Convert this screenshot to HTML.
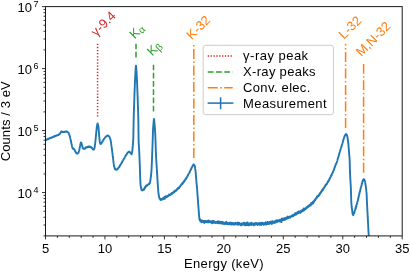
<!DOCTYPE html>
<html><head><meta charset="utf-8"><title>chart</title>
<style>html,body{margin:0;padding:0;background:#fff;}body{width:410px;height:272px;overflow:hidden;position:relative;font-family:"Liberation Sans",sans-serif;}</style>
</head><body>
<svg width="410" height="272" viewBox="0 0 410 272" style="position:absolute;left:0;top:0;will-change:transform">
<rect width="410" height="272" fill="#fff"/>
<line x1="97.6" y1="116.55" x2="97.6" y2="43.7" stroke="#d62728" stroke-width="1.5" stroke-dasharray="1.3,1.809"/>
<line x1="136" y1="57.5" x2="136" y2="43.75" stroke="#2ca02c" stroke-width="1.5" stroke-dasharray="5.85,2.4"/>
<line x1="153.5" y1="111.5" x2="153.5" y2="64.75" stroke="#2ca02c" stroke-width="1.5" stroke-dasharray="5.85,2.4"/>
<line x1="193.8" y1="158.0" x2="193.8" y2="45" stroke="#ff7f0e" stroke-width="1.5" stroke-dasharray="9.96,2.49,1.56,2.49"/>
<line x1="345.6" y1="127.9" x2="345.6" y2="43.75" stroke="#ff7f0e" stroke-width="1.5" stroke-dasharray="9.96,2.49,1.56,2.49"/>
<line x1="363.6" y1="172.8" x2="363.6" y2="64.1" stroke="#ff7f0e" stroke-width="1.5" stroke-dasharray="9.96,2.49,1.56,2.49"/>
<clipPath id="c"><rect x="45.5" y="6.6" width="356.7" height="229.3"/></clipPath>
<path d="M45.50,140.15 45.62,139.55 45.74,139.86 45.86,139.70 45.98,139.67 46.10,139.66 46.22,139.40 46.34,139.57 46.46,139.45 46.58,139.91 46.70,139.49 46.82,139.38 46.94,139.34 47.06,139.25 47.18,139.16 47.30,139.20 47.42,139.26 47.54,139.13 47.66,139.22 47.78,139.04 47.90,139.02 48.02,139.16 48.14,138.99 48.26,138.82 48.38,138.82 48.50,138.86 48.62,138.98 48.74,138.67 48.86,138.62 48.98,138.73 49.10,138.46 49.22,138.48 49.34,138.57 49.46,138.49 49.58,138.39 49.70,138.41 49.82,137.95 49.94,138.35 50.06,138.07 50.18,137.94 50.30,138.12 50.42,138.13 50.54,137.94 50.66,137.82 50.78,137.90 50.90,137.85 51.02,137.97 51.14,137.84 51.26,137.73 51.38,137.79 51.50,137.59 51.62,137.45 51.74,137.58 51.86,137.53 51.98,137.39 52.10,137.28 52.22,137.34 52.34,136.98 52.46,137.30 52.58,137.23 52.70,136.93 52.82,137.08 52.94,136.91 53.06,137.06 53.18,136.69 53.30,136.76 53.42,136.90 53.54,136.90 53.66,136.47 53.78,136.61 53.90,136.65 54.02,136.49 54.14,136.69 54.26,136.32 54.38,136.45 54.50,136.23 54.62,136.46 54.74,136.25 54.86,136.16 54.98,135.95 55.10,136.28 55.22,136.13 55.34,136.08 55.46,136.07 55.58,135.93 55.70,135.76 55.82,135.69 55.94,135.64 56.06,135.84 56.18,135.47 56.30,135.52 56.42,135.50 56.54,135.51 56.66,135.50 56.78,135.25 56.90,135.15 57.02,135.30 57.14,135.40 57.26,135.31 57.38,135.21 57.50,135.11 57.62,135.14 57.74,135.04 57.86,135.11 57.98,134.89 58.10,134.95 58.22,134.87 58.34,134.89 58.46,134.81 58.58,135.01 58.70,134.83 58.82,134.77 58.94,134.31 59.06,134.42 59.18,134.31 59.30,134.34 59.42,133.92 59.54,134.18 59.66,134.04 59.78,133.65 59.90,133.55 60.02,133.43 60.14,133.38 60.26,133.31 60.38,133.29 60.50,132.86 60.62,132.75 60.74,132.46 60.86,132.41 60.98,132.09 61.10,131.96 61.22,131.55 61.34,131.54 61.46,131.42 61.58,131.66 61.70,131.60 61.82,131.55 61.94,131.60 62.06,131.76 62.18,131.71 62.30,131.75 62.42,131.96 62.54,132.22 62.66,131.97 62.78,131.94 62.90,131.88 63.02,131.86 63.14,132.06 63.26,132.09 63.38,132.00 63.50,132.03 63.62,132.01 63.74,132.01 63.86,131.84 63.98,131.95 64.10,132.01 64.22,131.90 64.34,131.91 64.46,131.84 64.58,131.85 64.70,131.94 64.82,131.76 64.94,131.74 65.06,131.79 65.18,131.73 65.30,131.79 65.42,131.36 65.54,131.64 65.66,131.47 65.78,131.52 65.90,131.59 66.02,131.62 66.14,131.62 66.26,131.55 66.38,131.72 66.50,131.55 66.62,131.59 66.74,131.72 66.86,131.62 66.98,131.94 67.10,131.86 67.22,132.02 67.34,131.85 67.46,131.88 67.58,132.01 67.70,132.15 67.82,132.11 67.94,132.32 68.06,132.39 68.18,132.68 68.30,132.57 68.42,132.89 68.54,132.87 68.66,133.04 68.78,133.29 68.90,133.50 69.02,133.93 69.14,134.32 69.26,134.54 69.38,134.91 69.50,135.37 69.62,135.61 69.74,136.02 69.86,136.42 69.98,136.73 70.10,137.49 70.22,137.67 70.34,138.44 70.46,138.87 70.58,139.52 70.70,139.91 70.82,140.36 70.94,141.05 71.06,141.49 71.18,142.11 71.30,142.75 71.42,143.37 71.54,144.00 71.66,144.55 71.78,145.23 71.90,145.51 72.02,146.25 72.14,146.57 72.26,147.34 72.38,147.79 72.50,147.72 72.62,148.33 72.74,148.51 72.86,148.50 72.98,148.82 73.10,148.74 73.22,148.61 73.34,148.88 73.46,148.93 73.58,149.01 73.70,148.85 73.82,149.17 73.94,149.24 74.06,149.03 74.18,149.19 74.30,149.39 74.42,149.50 74.54,150.05 74.66,150.08 74.78,150.16 74.90,150.47 75.02,150.84 75.14,151.43 75.26,151.28 75.38,151.53 75.50,151.80 75.62,151.92 75.74,152.47 75.86,152.22 75.98,152.59 76.10,152.66 76.22,152.91 76.34,152.81 76.46,153.44 76.58,153.29 76.70,153.42 76.82,153.34 76.94,153.39 77.06,153.58 77.18,153.63 77.30,153.57 77.42,153.61 77.54,153.49 77.66,153.33 77.78,153.40 77.90,153.31 78.02,153.13 78.14,153.18 78.26,153.13 78.38,152.76 78.50,152.40 78.62,152.24 78.74,152.07 78.86,151.36 78.98,150.99 79.10,150.58 79.22,150.33 79.34,149.34 79.46,149.06 79.58,148.54 79.70,147.61 79.82,147.30 79.94,146.59 80.06,145.91 80.18,145.44 80.30,144.61 80.42,144.15 80.54,143.90 80.66,143.07 80.78,143.04 80.90,142.56 81.02,142.63 81.14,142.61 81.26,142.56 81.38,143.12 81.50,143.62 81.62,143.88 81.74,144.30 81.86,144.93 81.98,145.16 82.10,145.43 82.22,146.00 82.34,146.66 82.46,146.91 82.58,147.50 82.70,147.93 82.82,147.98 82.94,147.99 83.06,148.11 83.18,148.42 83.30,148.67 83.42,148.68 83.54,148.80 83.66,148.71 83.78,148.84 83.90,148.73 84.02,148.73 84.14,148.55 84.26,148.47 84.38,148.57 84.50,148.42 84.62,148.37 84.74,148.52 84.86,148.33 84.98,148.68 85.10,148.32 85.22,148.02 85.34,148.15 85.46,148.02 85.58,147.81 85.70,148.01 85.82,147.68 85.94,147.30 86.06,147.78 86.18,147.51 86.30,147.74 86.42,147.37 86.54,147.23 86.66,147.55 86.78,147.11 86.90,147.23 87.02,147.34 87.14,147.10 87.26,147.02 87.38,146.99 87.50,147.05 87.62,146.78 87.74,146.94 87.86,146.91 87.98,147.14 88.10,146.76 88.22,146.67 88.34,146.90 88.46,146.75 88.58,146.84 88.70,146.82 88.82,146.96 88.94,146.71 89.06,146.79 89.18,146.45 89.30,146.68 89.42,147.01 89.54,146.71 89.66,146.70 89.78,146.63 89.90,146.88 90.02,146.82 90.14,146.64 90.26,146.89 90.38,146.86 90.50,146.96 90.62,146.81 90.74,147.21 90.86,147.10 90.98,147.11 91.10,147.14 91.22,147.28 91.34,147.53 91.46,147.48 91.58,147.77 91.70,147.81 91.82,148.02 91.94,148.05 92.06,148.05 92.18,147.94 92.30,148.42 92.42,148.67 92.54,148.76 92.66,149.00 92.78,149.03 92.90,149.20 93.02,149.25 93.14,149.69 93.26,149.59 93.38,149.53 93.50,149.39 93.62,149.48 93.74,149.59 93.86,149.29 93.98,148.92 94.10,148.99 94.22,148.73 94.34,148.39 94.46,148.04 94.58,147.60 94.70,146.85 94.82,146.09 94.94,144.99 95.06,144.32 95.18,143.14 95.30,142.35 95.42,140.83 95.54,140.08 95.66,138.91 95.78,137.48 95.90,136.25 96.02,134.97 96.14,133.67 96.26,132.35 96.38,131.17 96.50,130.01 96.62,128.78 96.74,127.50 96.86,126.49 96.98,125.72 97.10,125.19 97.22,124.42 97.34,123.90 97.46,123.68 97.58,123.40 97.70,123.52 97.82,123.82 97.94,124.25 98.06,124.60 98.18,125.33 98.30,125.72 98.42,126.91 98.54,127.98 98.66,129.47 98.78,131.20 98.90,132.59 99.02,133.87 99.14,135.25 99.26,136.75 99.38,138.06 99.50,139.33 99.62,140.54 99.74,141.11 99.86,141.73 99.98,142.28 100.10,143.01 100.22,143.44 100.34,143.83 100.46,143.89 100.58,143.98 100.70,144.10 100.82,143.88 100.94,143.94 101.06,143.81 101.18,143.47 101.30,143.39 101.42,143.21 101.54,143.26 101.66,143.18 101.78,142.66 101.90,142.50 102.02,142.04 102.14,142.18 102.26,141.96 102.38,141.63 102.50,141.66 102.62,141.15 102.74,141.11 102.86,140.94 102.98,140.55 103.10,140.59 103.22,140.40 103.34,139.90 103.46,139.69 103.58,139.74 103.70,139.47 103.82,139.15 103.94,139.08 104.06,138.92 104.18,138.73 104.30,138.66 104.42,138.43 104.54,138.42 104.66,138.20 104.78,137.95 104.90,137.83 105.02,137.70 105.14,137.48 105.26,137.11 105.38,137.22 105.50,137.00 105.62,137.07 105.74,136.78 105.86,136.72 105.98,136.58 106.10,136.62 106.22,136.34 106.34,136.18 106.46,136.14 106.58,135.96 106.70,135.94 106.82,135.84 106.94,135.80 107.06,135.92 107.18,135.61 107.30,135.63 107.42,135.58 107.54,135.68 107.66,135.48 107.78,135.55 107.90,135.65 108.02,135.74 108.14,135.72 108.26,135.71 108.38,135.72 108.50,135.93 108.62,136.09 108.74,136.03 108.86,136.10 108.98,136.24 109.10,136.23 109.22,136.47 109.34,136.67 109.46,136.96 109.58,137.16 109.70,137.27 109.82,137.81 109.94,138.16 110.06,138.22 110.18,138.62 110.30,138.98 110.42,139.46 110.54,139.65 110.66,140.54 110.78,140.84 110.90,141.72 111.02,142.39 111.14,143.27 111.26,144.29 111.38,145.43 111.50,146.13 111.62,147.09 111.74,147.96 111.86,148.67 111.98,149.99 112.10,150.78 112.22,151.59 112.34,152.68 112.46,153.29 112.58,154.38 112.70,155.67 112.82,156.57 112.94,157.07 113.06,157.90 113.18,159.30 113.30,160.65 113.42,161.32 113.54,162.33 113.66,163.46 113.78,164.13 113.90,165.20 114.02,166.03 114.14,166.50 114.26,166.95 114.38,167.18 114.50,167.79 114.62,167.94 114.74,168.58 114.86,169.08 114.98,168.57 115.10,168.41 115.22,168.90 115.34,169.19 115.46,169.44 115.58,169.54 115.70,169.24 115.82,169.31 115.94,169.80 116.06,169.34 116.18,169.83 116.30,169.55 116.42,169.74 116.54,169.70 116.66,169.67 116.78,169.62 116.90,169.18 117.02,169.37 117.14,169.23 117.26,169.20 117.38,169.30 117.50,168.89 117.62,168.71 117.74,168.61 117.86,168.59 117.98,168.70 118.10,168.25 118.22,168.52 118.34,168.20 118.46,167.94 118.58,167.55 118.70,167.70 118.82,167.61 118.94,166.93 119.06,167.34 119.18,167.24 119.30,166.79 119.42,166.63 119.54,166.81 119.66,166.38 119.78,165.77 119.90,165.75 120.02,165.54 120.14,165.35 120.26,164.73 120.38,165.14 120.50,164.67 120.62,164.62 120.74,164.36 120.86,164.34 120.98,163.91 121.10,163.60 121.22,163.64 121.34,163.59 121.46,163.05 121.58,163.15 121.70,162.72 121.82,162.36 121.94,162.52 122.06,161.88 122.18,162.00 122.30,161.51 122.42,161.47 122.54,160.96 122.66,160.82 122.78,160.95 122.90,160.59 123.02,160.35 123.14,160.05 123.26,160.00 123.38,159.46 123.50,159.30 123.62,159.26 123.74,158.93 123.86,158.75 123.98,158.65 124.10,158.43 124.22,158.20 124.34,158.32 124.46,158.00 124.58,157.83 124.70,157.41 124.82,157.12 124.94,156.76 125.06,156.74 125.18,156.24 125.30,156.28 125.42,156.29 125.54,156.22 125.66,155.89 125.78,155.38 125.90,155.39 126.02,154.97 126.14,155.03 126.26,154.68 126.38,154.64 126.50,154.72 126.62,154.28 126.74,154.33 126.86,153.83 126.98,153.60 127.10,153.70 127.22,153.61 127.34,153.10 127.46,153.04 127.58,152.66 127.70,152.71 127.82,152.75 127.94,152.47 128.06,152.29 128.18,152.06 128.30,152.25 128.42,152.25 128.54,152.18 128.66,152.08 128.78,151.81 128.90,152.24 129.02,151.94 129.14,151.90 129.26,152.02 129.38,151.57 129.50,151.91 129.62,151.95 129.74,152.12 129.86,152.39 129.98,152.40 130.10,152.20 130.22,152.59 130.34,152.83 130.46,152.97 130.58,152.88 130.70,152.95 130.82,153.45 130.94,153.57 131.06,153.67 131.18,153.54 131.30,154.20 131.42,153.53 131.54,153.93 131.66,154.16 131.78,153.47 131.90,153.07 132.02,152.30 132.14,152.06 132.26,151.00 132.38,150.33 132.50,149.12 132.62,147.59 132.74,146.48 132.86,144.93 132.98,143.83 133.10,142.49 133.22,140.53 133.34,137.07 133.46,130.78 133.58,123.83 133.70,118.63 133.82,114.39 133.94,110.53 134.06,106.89 134.18,103.11 134.30,99.51 134.42,95.95 134.54,92.52 134.66,89.38 134.78,86.18 134.90,83.22 135.02,80.45 135.14,77.76 135.26,75.44 135.38,73.19 135.50,71.30 135.62,69.54 135.74,67.80 135.86,66.32 135.98,65.62 136.10,66.04 136.22,67.28 136.34,69.01 136.46,70.74 136.58,72.56 136.70,74.66 136.82,76.93 136.94,79.50 137.06,82.32 137.18,85.23 137.30,88.27 137.42,91.55 137.54,94.79 137.66,98.26 137.78,101.83 137.90,105.54 138.02,109.09 138.14,112.73 138.26,116.68 138.38,122.31 138.50,133.13 138.62,140.58 138.74,143.15 138.86,145.27 138.98,147.22 139.10,149.46 139.22,151.79 139.34,153.86 139.46,156.32 139.58,159.62 139.70,162.65 139.82,165.42 139.94,169.25 140.06,173.23 140.18,177.11 140.30,180.01 140.42,182.37 140.54,184.30 140.66,185.66 140.78,186.74 140.90,187.07 141.02,187.28 141.14,188.35 141.26,188.46 141.38,189.36 141.50,189.78 141.62,189.86 141.74,189.81 141.86,190.02 141.98,190.36 142.10,189.78 142.22,190.28 142.34,190.22 142.46,190.08 142.58,190.45 142.70,189.78 142.82,190.29 142.94,189.71 143.06,189.73 143.18,189.59 143.30,189.97 143.42,189.43 143.54,189.61 143.66,189.11 143.78,189.63 143.90,189.70 144.02,189.06 144.14,189.32 144.26,188.84 144.38,189.17 144.50,188.41 144.62,187.75 144.74,188.49 144.86,187.84 144.98,187.39 145.10,187.31 145.22,186.84 145.34,187.08 145.46,186.64 145.58,187.21 145.70,186.80 145.82,185.98 145.94,185.88 146.06,186.03 146.18,185.52 146.30,185.92 146.42,185.83 146.54,185.52 146.66,185.48 146.78,185.68 146.90,185.84 147.02,185.77 147.14,185.27 147.26,185.41 147.38,184.88 147.50,185.12 147.62,184.65 147.74,185.05 147.86,184.44 147.98,184.45 148.10,184.66 148.22,184.76 148.34,184.14 148.46,184.33 148.58,184.45 148.70,184.40 148.82,184.02 148.94,184.18 149.06,183.97 149.18,184.31 149.30,183.94 149.42,183.28 149.54,182.86 149.66,183.28 149.78,183.34 149.90,182.80 150.02,182.68 150.14,181.81 150.26,180.87 150.38,180.57 150.50,179.51 150.62,178.78 150.74,177.44 150.86,176.98 150.98,175.88 151.10,175.22 151.22,173.74 151.34,172.37 151.46,170.55 151.58,168.73 151.70,166.04 151.82,163.34 151.94,160.44 152.06,157.36 152.18,154.59 152.30,150.90 152.42,147.82 152.54,144.70 152.66,141.32 152.78,137.37 152.90,133.21 153.02,129.69 153.14,127.64 153.26,126.02 153.38,124.88 153.50,123.46 153.62,122.14 153.74,120.52 153.86,119.60 153.98,118.91 154.10,119.16 154.22,120.24 154.34,121.45 154.46,123.02 154.58,124.23 154.70,125.82 154.82,127.17 154.94,128.74 155.06,130.79 155.18,133.04 155.30,135.29 155.42,138.12 155.54,141.35 155.66,145.25 155.78,149.46 155.90,152.92 156.02,155.74 156.14,157.72 156.26,159.55 156.38,161.90 156.50,163.64 156.62,165.98 156.74,167.48 156.86,169.14 156.98,171.11 157.10,173.52 157.22,175.25 157.34,177.31 157.46,179.36 157.58,181.29 157.70,183.18 157.82,185.02 157.94,187.10 158.06,188.80 158.18,189.19 158.30,191.86 158.42,192.36 158.54,193.86 158.66,194.18 158.78,195.31 158.90,195.96 159.02,196.56 159.14,197.41 159.26,197.84 159.38,197.68 159.50,198.31 159.62,198.81 159.74,198.94 159.86,198.71 159.98,198.85 160.10,199.00 160.22,198.75 160.34,198.77 160.46,199.89 160.58,199.22 160.70,199.44 160.82,199.15 160.94,199.90 161.06,200.06 161.18,199.31 161.30,199.55 161.42,199.04 161.54,199.91 161.66,199.55 161.78,198.84 161.90,199.54 162.02,199.15 162.14,199.11 162.26,199.02 162.38,198.59 162.50,198.58 162.62,198.95 162.74,198.65 162.86,198.27 162.98,199.29 163.10,198.43 163.22,198.25 163.34,198.14 163.46,198.58 163.58,198.63 163.70,198.31 163.82,198.48 163.94,197.57 164.06,197.91 164.18,197.82 164.30,197.93 164.42,198.04 164.54,197.08 164.66,198.86 164.78,197.38 164.90,197.75 165.02,197.86 165.14,197.80 165.26,197.53 165.38,196.35 165.50,196.93 165.62,197.52 165.74,196.86 165.86,196.75 165.98,196.23 166.10,197.42 166.22,197.11 166.34,196.56 166.46,196.76 166.58,196.70 166.70,196.28 166.82,196.51 166.94,196.63 167.06,196.67 167.18,196.85 167.30,196.35 167.42,196.11 167.54,196.34 167.66,195.92 167.78,195.64 167.90,196.40 168.02,195.80 168.14,195.91 168.26,196.02 168.38,195.35 168.50,195.87 168.62,195.74 168.74,195.48 168.86,195.58 168.98,195.12 169.10,194.55 169.22,195.13 169.34,194.85 169.46,195.38 169.58,195.10 169.70,194.76 169.82,194.88 169.94,195.25 170.06,195.10 170.18,194.77 170.30,194.72 170.42,194.40 170.54,194.38 170.66,194.54 170.78,194.23 170.90,194.30 171.02,193.75 171.14,193.49 171.26,193.40 171.38,193.75 171.50,194.25 171.62,194.13 171.74,193.33 171.86,193.07 171.98,193.76 172.10,193.57 172.22,192.89 172.34,193.61 172.46,193.24 172.58,193.53 172.70,193.12 172.82,193.22 172.94,192.95 173.06,192.45 173.18,192.60 173.30,192.37 173.42,192.77 173.54,192.09 173.66,191.83 173.78,192.45 173.90,192.51 174.02,192.51 174.14,192.30 174.26,191.38 174.38,191.54 174.50,191.49 174.62,191.56 174.74,190.79 174.86,191.37 174.98,191.36 175.10,190.87 175.22,191.11 175.34,191.34 175.46,190.88 175.58,191.09 175.70,190.97 175.82,190.68 175.94,190.57 176.06,190.22 176.18,190.62 176.30,189.98 176.42,189.80 176.54,190.12 176.66,189.57 176.78,189.81 176.90,189.89 177.02,189.48 177.14,189.38 177.26,189.51 177.38,189.35 177.50,188.54 177.62,188.49 177.74,189.17 177.86,188.77 177.98,187.92 178.10,188.02 178.22,188.31 178.34,187.89 178.46,188.20 178.58,187.96 178.70,187.96 178.82,187.35 178.94,187.75 179.06,188.02 179.18,187.09 179.30,187.58 179.42,187.35 179.54,187.12 179.66,186.79 179.78,186.34 179.90,186.29 180.02,186.63 180.14,186.56 180.26,186.50 180.38,186.29 180.50,186.13 180.62,185.62 180.74,185.26 180.86,185.52 180.98,185.47 181.10,185.21 181.22,184.62 181.34,184.75 181.46,184.34 181.58,184.65 181.70,184.17 181.82,184.27 181.94,184.26 182.06,184.06 182.18,184.24 182.30,183.41 182.42,182.97 182.54,183.66 182.66,183.63 182.78,183.48 182.90,183.01 183.02,182.92 183.14,182.65 183.26,182.11 183.38,182.14 183.50,182.26 183.62,181.81 183.74,182.31 183.86,181.23 183.98,181.35 184.10,181.59 184.22,180.97 184.34,180.67 184.46,180.44 184.58,180.43 184.70,180.83 184.82,180.38 184.94,180.23 185.06,179.79 185.18,179.96 185.30,179.59 185.42,179.15 185.54,179.09 185.66,179.08 185.78,179.13 185.90,178.64 186.02,178.60 186.14,178.79 186.26,177.90 186.38,177.60 186.50,177.96 186.62,177.63 186.74,177.30 186.86,177.20 186.98,176.86 187.10,176.86 187.22,176.45 187.34,176.52 187.46,175.85 187.58,175.73 187.70,175.74 187.82,175.39 187.94,175.46 188.06,175.07 188.18,174.74 188.30,174.69 188.42,174.30 188.54,173.83 188.66,173.70 188.78,173.54 188.90,173.38 189.02,173.26 189.14,173.20 189.26,172.88 189.38,172.90 189.50,172.54 189.62,171.97 189.74,172.13 189.86,171.77 189.98,171.17 190.10,171.09 190.22,171.01 190.34,170.58 190.46,170.51 190.58,170.13 190.70,169.96 190.82,169.49 190.94,169.39 191.06,168.98 191.18,168.94 191.30,168.19 191.42,168.36 191.54,168.29 191.66,167.90 191.78,167.53 191.90,167.41 192.02,166.90 192.14,166.68 192.26,166.57 192.38,166.41 192.50,166.45 192.62,165.90 192.74,166.08 192.86,165.38 192.98,165.34 193.10,165.31 193.22,165.37 193.34,164.89 193.46,164.47 193.58,164.89 193.70,164.76 193.82,164.56 193.94,164.61 194.06,164.76 194.18,165.03 194.30,165.28 194.42,165.03 194.54,165.96 194.66,165.73 194.78,166.06 194.90,166.82 195.02,167.39 195.14,168.63 195.26,169.22 195.38,169.79 195.50,170.74 195.62,171.87 195.74,173.20 195.86,174.80 195.98,175.88 196.10,177.84 196.22,178.95 196.34,180.49 196.46,182.33 196.58,182.99 196.70,184.58 196.82,186.20 196.94,187.22 197.06,188.53 197.18,190.22 197.30,191.76 197.42,193.79 197.54,195.09 197.66,196.45 197.78,199.04 197.90,199.68 198.02,201.23 198.14,203.59 198.26,205.10 198.38,206.13 198.50,207.80 198.62,209.61 198.74,210.71 198.86,212.87 198.98,214.19 199.10,215.62 199.22,217.20 199.34,218.15 199.46,219.36 199.58,219.71 199.70,218.47 199.82,220.26 199.94,219.51 200.06,219.60 200.18,220.94 200.30,220.28 200.42,220.57 200.54,221.40 200.66,220.52 200.78,220.46 200.90,221.18 201.02,221.72 201.14,221.39 201.26,220.28 201.38,220.81 201.50,221.11 201.62,222.29 201.74,221.74 201.86,221.73 201.98,221.94 202.10,221.13 202.22,221.58 202.34,221.60 202.46,220.81 202.58,221.35 202.70,221.69 202.82,220.79 202.94,221.85 203.06,221.83 203.18,222.00 203.30,221.01 203.42,221.51 203.54,222.27 203.66,221.91 203.78,221.05 203.90,221.62 204.02,222.29 204.14,221.47 204.26,221.74 204.38,222.96 204.50,221.52 204.62,221.49 204.74,221.01 204.86,221.21 204.98,222.40 205.10,221.51 205.22,220.94 205.34,221.09 205.46,221.61 205.58,222.04 205.70,221.21 205.82,222.02 205.94,221.36 206.06,221.84 206.18,221.93 206.30,221.99 206.42,221.42 206.54,221.57 206.66,221.95 206.78,220.95 206.90,221.77 207.02,221.97 207.14,222.27 207.26,221.67 207.38,221.59 207.50,221.78 207.62,221.30 207.74,221.59 207.86,221.94 207.98,221.88 208.10,221.14 208.22,221.55 208.34,220.56 208.46,222.18 208.58,221.45 208.70,221.88 208.82,221.14 208.94,221.71 209.06,222.01 209.18,222.31 209.30,221.02 209.42,222.25 209.54,221.69 209.66,221.36 209.78,222.06 209.90,221.64 210.02,221.65 210.14,221.43 210.26,221.95 210.38,221.85 210.50,221.74 210.62,221.31 210.74,221.57 210.86,222.09 210.98,222.58 211.10,221.86 211.22,222.67 211.34,221.89 211.46,221.30 211.58,222.27 211.70,221.39 211.82,222.16 211.94,222.54 212.06,221.78 212.18,221.91 212.30,223.35 212.42,222.11 212.54,222.14 212.66,222.44 212.78,221.96 212.90,221.97 213.02,222.24 213.14,220.71 213.26,222.84 213.38,221.47 213.50,221.47 213.62,222.38 213.74,222.11 213.86,221.40 213.98,222.23 214.10,221.49 214.22,221.74 214.34,221.30 214.46,221.69 214.58,222.39 214.70,222.24 214.82,222.36 214.94,222.71 215.06,222.18 215.18,221.85 215.30,222.07 215.42,223.16 215.54,222.27 215.66,222.44 215.78,222.21 215.90,222.42 216.02,222.53 216.14,222.29 216.26,222.22 216.38,221.88 216.50,221.86 216.62,222.57 216.74,222.77 216.86,222.88 216.98,222.40 217.10,221.92 217.22,222.75 217.34,222.75 217.46,221.57 217.58,222.88 217.70,222.76 217.82,223.38 217.94,221.83 218.06,221.75 218.18,222.92 218.30,221.48 218.42,222.09 218.54,221.90 218.66,221.95 218.78,221.46 218.90,222.41 219.02,223.10 219.14,222.81 219.26,222.83 219.38,222.38 219.50,223.41 219.62,222.90 219.74,223.21 219.86,221.76 219.98,222.83 220.10,222.01 220.22,222.86 220.34,222.78 220.46,222.05 220.58,222.79 220.70,223.36 220.82,222.99 220.94,223.06 221.06,222.25 221.18,222.36 221.30,222.12 221.42,222.84 221.54,223.44 221.66,223.03 221.78,222.79 221.90,222.17 222.02,223.06 222.14,222.69 222.26,221.76 222.38,221.87 222.50,222.66 222.62,222.36 222.74,223.81 222.86,222.90 222.98,222.31 223.10,222.63 223.22,223.81 223.34,222.39 223.46,223.37 223.58,223.19 223.70,223.79 223.82,223.27 223.94,222.75 224.06,223.28 224.18,223.03 224.30,223.56 224.42,222.98 224.54,224.15 224.66,222.98 224.78,223.30 224.90,222.69 225.02,223.14 225.14,223.09 225.26,223.19 225.38,223.61 225.50,222.81 225.62,222.64 225.74,223.76 225.86,222.98 225.98,222.77 226.10,223.82 226.22,223.61 226.34,221.68 226.46,222.98 226.58,223.65 226.70,223.68 226.82,222.93 226.94,224.12 227.06,222.79 227.18,223.12 227.30,223.33 227.42,223.27 227.54,223.74 227.66,223.87 227.78,223.27 227.90,224.10 228.02,222.93 228.14,223.20 228.26,224.31 228.38,223.40 228.50,223.96 228.62,223.12 228.74,223.22 228.86,223.32 228.98,223.49 229.10,223.20 229.22,223.42 229.34,223.80 229.46,224.11 229.58,223.49 229.70,223.81 229.82,223.97 229.94,222.84 230.06,222.57 230.18,224.39 230.30,224.23 230.42,223.52 230.54,223.69 230.66,222.96 230.78,222.72 230.90,223.69 231.02,222.67 231.14,224.05 231.26,223.14 231.38,223.71 231.50,224.65 231.62,224.63 231.74,223.40 231.86,224.18 231.98,222.98 232.10,223.24 232.22,223.80 232.34,224.38 232.46,223.27 232.58,223.91 232.70,223.67 232.82,222.89 232.94,223.54 233.06,224.48 233.18,223.58 233.30,223.93 233.42,224.12 233.54,223.23 233.66,224.36 233.78,224.52 233.90,224.58 234.02,224.43 234.14,223.41 234.26,223.35 234.38,223.24 234.50,223.17 234.62,223.24 234.74,224.28 234.86,224.55 234.98,223.35 235.10,224.19 235.22,223.00 235.34,223.54 235.46,223.16 235.58,222.81 235.70,223.78 235.82,223.80 235.94,223.52 236.06,223.46 236.18,223.20 236.30,223.69 236.42,223.43 236.54,223.92 236.66,223.09 236.78,223.92 236.90,224.09 237.02,224.51 237.14,224.41 237.26,223.92 237.38,223.42 237.50,222.76 237.62,223.82 237.74,224.64 237.86,224.79 237.98,222.37 238.10,223.40 238.22,223.64 238.34,223.25 238.46,223.96 238.58,223.88 238.70,223.56 238.82,223.84 238.94,222.95 239.06,223.31 239.18,223.36 239.30,224.40 239.42,222.95 239.54,223.77 239.66,224.34 239.78,223.87 239.90,224.37 240.02,223.53 240.14,224.16 240.26,224.43 240.38,225.21 240.50,224.34 240.62,224.75 240.74,223.94 240.86,223.99 240.98,224.85 241.10,224.28 241.22,224.77 241.34,224.36 241.46,225.18 241.58,225.34 241.70,223.48 241.82,225.05 241.94,224.23 242.06,224.26 242.18,223.92 242.30,224.41 242.42,223.35 242.54,223.58 242.66,223.56 242.78,224.18 242.90,224.55 243.02,224.44 243.14,224.24 243.26,223.68 243.38,223.01 243.50,224.27 243.62,224.12 243.74,224.25 243.86,224.87 243.98,223.95 244.10,223.94 244.22,222.72 244.34,224.39 244.46,224.04 244.58,223.64 244.70,224.30 244.82,223.47 244.94,223.76 245.06,225.22 245.18,224.52 245.30,224.62 245.42,224.52 245.54,224.46 245.66,224.21 245.78,225.42 245.90,224.05 246.02,224.53 246.14,223.97 246.26,223.90 246.38,222.69 246.50,222.99 246.62,225.00 246.74,224.97 246.86,223.85 246.98,224.09 247.10,224.47 247.22,223.53 247.34,225.14 247.46,223.51 247.58,223.69 247.70,222.51 247.82,224.99 247.94,224.14 248.06,225.05 248.18,223.53 248.30,224.30 248.42,224.15 248.54,224.22 248.66,225.31 248.78,225.42 248.90,224.90 249.02,223.87 249.14,224.62 249.26,224.88 249.38,224.42 249.50,224.43 249.62,224.38 249.74,223.57 249.86,224.24 249.98,225.02 250.10,223.51 250.22,224.14 250.34,224.57 250.46,223.30 250.58,224.01 250.70,223.10 250.82,223.73 250.94,223.26 251.06,223.56 251.18,223.79 251.30,223.91 251.42,223.95 251.54,222.67 251.66,224.99 251.78,223.90 251.90,223.43 252.02,223.69 252.14,224.24 252.26,223.47 252.38,223.81 252.50,223.78 252.62,224.36 252.74,223.61 252.86,224.30 252.98,224.24 253.10,223.95 253.22,224.75 253.34,224.04 253.46,223.35 253.58,224.20 253.70,224.10 253.82,224.00 253.94,224.16 254.06,225.38 254.18,224.15 254.30,224.28 254.42,223.87 254.54,224.77 254.66,223.97 254.78,223.54 254.90,223.29 255.02,224.30 255.14,224.43 255.26,223.07 255.38,223.57 255.50,224.36 255.62,224.58 255.74,223.22 255.86,223.75 255.98,224.46 256.10,223.67 256.22,223.71 256.34,223.66 256.46,223.21 256.58,223.99 256.70,224.14 256.82,223.15 256.94,224.01 257.06,224.59 257.18,224.07 257.30,224.50 257.42,223.63 257.54,224.73 257.66,223.48 257.78,225.02 257.90,223.67 258.02,223.51 258.14,223.41 258.26,223.68 258.38,223.63 258.50,223.51 258.62,223.72 258.74,224.29 258.86,224.41 258.98,223.70 259.10,224.61 259.22,223.31 259.34,223.29 259.46,223.23 259.58,224.22 259.70,222.98 259.82,223.06 259.94,224.60 260.06,224.85 260.18,224.63 260.30,222.99 260.42,223.85 260.54,224.32 260.66,223.89 260.78,222.89 260.90,223.63 261.02,222.84 261.14,223.10 261.26,225.05 261.38,224.19 261.50,222.95 261.62,222.92 261.74,224.05 261.86,223.43 261.98,224.10 262.10,223.39 262.22,223.64 262.34,223.89 262.46,223.15 262.58,222.63 262.70,223.04 262.82,223.32 262.94,223.60 263.06,223.67 263.18,223.66 263.30,223.99 263.42,223.17 263.54,224.47 263.66,224.81 263.78,223.86 263.90,223.74 264.02,224.34 264.14,223.98 264.26,223.71 264.38,223.49 264.50,223.15 264.62,222.89 264.74,223.93 264.86,224.21 264.98,222.91 265.10,223.46 265.22,223.61 265.34,223.22 265.46,223.02 265.58,223.21 265.70,222.29 265.82,223.37 265.94,223.22 266.06,224.58 266.18,223.89 266.30,223.14 266.42,223.31 266.54,224.28 266.66,224.20 266.78,223.37 266.90,223.17 267.02,222.40 267.14,223.02 267.26,223.09 267.38,222.75 267.50,224.13 267.62,222.06 267.74,223.03 267.86,223.32 267.98,223.32 268.10,224.01 268.22,222.24 268.34,222.59 268.46,223.05 268.58,223.05 268.70,222.73 268.82,222.50 268.94,223.52 269.06,222.30 269.18,222.55 269.30,223.67 269.42,223.82 269.54,223.31 269.66,222.31 269.78,222.29 269.90,222.25 270.02,222.09 270.14,222.48 270.26,223.42 270.38,222.80 270.50,222.23 270.62,222.20 270.74,221.95 270.86,223.28 270.98,221.44 271.10,222.71 271.22,221.72 271.34,221.92 271.46,221.66 271.58,223.01 271.70,222.40 271.82,223.97 271.94,221.82 272.06,221.77 272.18,222.70 272.30,222.66 272.42,222.16 272.54,221.16 272.66,223.08 272.78,222.57 272.90,222.45 273.02,221.87 273.14,222.54 273.26,221.84 273.38,222.16 273.50,222.00 273.62,222.79 273.74,221.80 273.86,221.84 273.98,222.63 274.10,222.11 274.22,221.95 274.34,221.80 274.46,222.44 274.58,221.53 274.70,222.12 274.82,222.97 274.94,222.03 275.06,221.35 275.18,221.09 275.30,221.81 275.42,221.02 275.54,220.79 275.66,221.23 275.78,221.02 275.90,222.08 276.02,220.76 276.14,222.42 276.26,221.10 276.38,221.55 276.50,221.83 276.62,221.55 276.74,221.80 276.86,220.82 276.98,220.09 277.10,221.20 277.22,220.35 277.34,220.93 277.46,221.74 277.58,221.08 277.70,220.83 277.82,220.51 277.94,220.93 278.06,220.97 278.18,220.16 278.30,221.16 278.42,220.37 278.54,221.05 278.66,220.65 278.78,221.40 278.90,221.29 279.02,220.79 279.14,220.69 279.26,220.96 279.38,221.44 279.50,221.23 279.62,220.70 279.74,220.75 279.86,221.40 279.98,219.62 280.10,220.76 280.22,219.94 280.34,221.13 280.46,220.09 280.58,220.26 280.70,219.69 280.82,220.25 280.94,220.63 281.06,221.06 281.18,219.44 281.30,219.84 281.42,222.15 281.54,220.51 281.66,219.96 281.78,220.20 281.90,218.45 282.02,220.70 282.14,219.88 282.26,218.98 282.38,220.34 282.50,219.33 282.62,219.08 282.74,219.86 282.86,219.75 282.98,219.25 283.10,219.41 283.22,218.69 283.34,218.60 283.46,219.80 283.58,219.98 283.70,219.46 283.82,219.39 283.94,218.93 284.06,219.03 284.18,218.56 284.30,219.94 284.42,218.67 284.54,219.14 284.66,218.88 284.78,218.10 284.90,219.81 285.02,218.55 285.14,218.29 285.26,218.71 285.38,218.14 285.50,218.58 285.62,218.01 285.74,218.77 285.86,218.45 285.98,217.66 286.10,218.87 286.22,218.39 286.34,217.66 286.46,218.38 286.58,218.37 286.70,219.06 286.82,217.60 286.94,218.45 287.06,217.91 287.18,218.23 287.30,217.72 287.42,217.78 287.54,218.02 287.66,217.10 287.78,216.58 287.90,217.61 288.02,217.34 288.14,217.56 288.26,217.80 288.38,217.31 288.50,217.98 288.62,217.30 288.74,217.33 288.86,217.64 288.98,217.47 289.10,217.07 289.22,217.13 289.34,216.63 289.46,216.65 289.58,216.97 289.70,217.28 289.82,216.59 289.94,217.19 290.06,217.69 290.18,217.74 290.30,216.62 290.42,217.09 290.54,216.81 290.66,216.84 290.78,216.82 290.90,216.61 291.02,216.71 291.14,216.33 291.26,216.06 291.38,216.26 291.50,216.33 291.62,216.64 291.74,216.16 291.86,216.29 291.98,216.57 292.10,215.34 292.22,215.62 292.34,215.97 292.46,215.66 292.58,215.09 292.70,216.03 292.82,215.45 292.94,214.93 293.06,216.31 293.18,214.68 293.30,215.25 293.42,214.87 293.54,215.20 293.66,215.37 293.78,214.63 293.90,214.92 294.02,214.85 294.14,214.37 294.26,215.37 294.38,214.83 294.50,214.55 294.62,214.31 294.74,214.41 294.86,214.58 294.98,214.23 295.10,215.00 295.22,213.11 295.34,213.24 295.46,214.10 295.58,213.27 295.70,214.07 295.82,213.73 295.94,214.26 296.06,214.12 296.18,214.49 296.30,214.25 296.42,214.34 296.54,213.94 296.66,214.13 296.78,213.80 296.90,213.22 297.02,212.84 297.14,212.80 297.26,213.54 297.38,212.12 297.50,213.27 297.62,212.77 297.74,213.41 297.86,213.09 297.98,212.58 298.10,212.88 298.22,211.74 298.34,212.87 298.46,212.90 298.58,211.75 298.70,212.95 298.82,212.43 298.94,212.50 299.06,211.69 299.18,212.57 299.30,212.49 299.42,212.15 299.54,211.63 299.66,212.38 299.78,212.53 299.90,212.08 300.02,212.29 300.14,211.49 300.26,211.76 300.38,211.80 300.50,211.62 300.62,212.78 300.74,211.62 300.86,211.10 300.98,211.67 301.10,210.72 301.22,211.32 301.34,211.43 301.46,210.79 301.58,210.80 301.70,210.45 301.82,210.86 301.94,210.43 302.06,211.45 302.18,210.89 302.30,210.42 302.42,209.81 302.54,211.29 302.66,210.89 302.78,210.45 302.90,210.25 303.02,210.17 303.14,209.81 303.26,210.78 303.38,209.96 303.50,209.15 303.62,209.42 303.74,208.50 303.86,209.86 303.98,209.83 304.10,210.19 304.22,210.26 304.34,208.91 304.46,209.38 304.58,209.54 304.70,209.37 304.82,208.72 304.94,209.21 305.06,209.00 305.18,209.30 305.30,208.61 305.42,208.44 305.54,208.24 305.66,208.21 305.78,207.96 305.90,208.06 306.02,208.34 306.14,208.24 306.26,208.52 306.38,208.34 306.50,208.06 306.62,207.21 306.74,207.86 306.86,208.03 306.98,206.89 307.10,206.89 307.22,206.87 307.34,206.75 307.46,206.98 307.58,206.62 307.70,207.10 307.82,206.33 307.94,206.70 308.06,206.46 308.18,206.17 308.30,206.93 308.42,206.42 308.54,206.54 308.66,206.09 308.78,206.43 308.90,206.30 309.02,205.89 309.14,205.12 309.26,206.10 309.38,205.96 309.50,205.65 309.62,205.58 309.74,205.44 309.86,205.37 309.98,204.78 310.10,205.07 310.22,205.13 310.34,204.65 310.46,204.40 310.58,205.45 310.70,204.84 310.82,204.36 310.94,204.19 311.06,203.22 311.18,203.60 311.30,203.96 311.42,204.47 311.54,203.03 311.66,203.46 311.78,204.38 311.90,203.77 312.02,203.56 312.14,203.75 312.26,203.12 312.38,202.97 312.50,203.20 312.62,203.14 312.74,202.27 312.86,203.15 312.98,201.75 313.10,202.02 313.22,203.33 313.34,201.81 313.46,202.11 313.58,201.32 313.70,201.43 313.82,201.12 313.94,201.08 314.06,201.32 314.18,201.57 314.30,201.08 314.42,201.17 314.54,200.23 314.66,200.80 314.78,200.31 314.90,200.44 315.02,199.62 315.14,199.53 315.26,199.96 315.38,199.52 315.50,199.19 315.62,198.75 315.74,198.81 315.86,198.88 315.98,198.82 316.10,198.21 316.22,198.15 316.34,198.28 316.46,197.59 316.58,198.18 316.70,197.70 316.82,197.52 316.94,196.57 317.06,196.72 317.18,196.78 317.30,196.80 317.42,196.48 317.54,196.86 317.66,196.64 317.78,196.36 317.90,195.61 318.02,196.66 318.14,195.94 318.26,196.10 318.38,195.53 318.50,195.62 318.62,195.71 318.74,195.41 318.86,195.52 318.98,194.98 319.10,195.57 319.22,194.11 319.34,194.42 319.46,194.78 319.58,194.21 319.70,193.99 319.82,193.40 319.94,194.22 320.06,193.04 320.18,193.67 320.30,193.40 320.42,193.46 320.54,193.47 320.66,192.60 320.78,192.39 320.90,192.37 321.02,191.75 321.14,192.38 321.26,191.81 321.38,191.81 321.50,191.21 321.62,191.39 321.74,191.01 321.86,190.99 321.98,190.49 322.10,190.96 322.22,190.25 322.34,189.48 322.46,190.28 322.58,189.80 322.70,189.43 322.82,190.28 322.94,189.31 323.06,188.74 323.18,188.77 323.30,188.89 323.42,188.52 323.54,188.78 323.66,188.54 323.78,187.81 323.90,187.87 324.02,187.87 324.14,187.39 324.26,187.20 324.38,187.41 324.50,187.11 324.62,186.40 324.74,186.48 324.86,186.34 324.98,186.25 325.10,185.91 325.22,186.32 325.34,185.49 325.46,185.29 325.58,185.48 325.70,184.61 325.82,184.78 325.94,185.07 326.06,184.35 326.18,184.30 326.30,184.66 326.42,184.31 326.54,184.02 326.66,183.88 326.78,183.45 326.90,183.53 327.02,183.21 327.14,183.75 327.26,183.03 327.38,182.60 327.50,182.48 327.62,182.31 327.74,181.73 327.86,181.68 327.98,182.10 328.10,181.12 328.22,181.13 328.34,181.35 328.46,181.26 328.58,180.40 328.70,180.83 328.82,180.14 328.94,180.45 329.06,179.94 329.18,179.52 329.30,179.56 329.42,179.29 329.54,178.74 329.66,179.24 329.78,178.40 329.90,178.54 330.02,177.91 330.14,177.35 330.26,177.29 330.38,177.30 330.50,177.26 330.62,177.28 330.74,176.64 330.86,176.31 330.98,175.84 331.10,175.88 331.22,175.72 331.34,174.88 331.46,175.46 331.58,175.17 331.70,175.18 331.82,174.18 331.94,174.15 332.06,173.88 332.18,173.32 332.30,173.16 332.42,172.87 332.54,172.94 332.66,172.65 332.78,172.58 332.90,171.92 333.02,171.42 333.14,171.55 333.26,171.25 333.38,171.03 333.50,170.87 333.62,170.19 333.74,170.19 333.86,169.51 333.98,169.45 334.10,169.24 334.22,168.75 334.34,168.49 334.46,167.82 334.58,167.64 334.70,167.46 334.82,166.85 334.94,166.59 335.06,166.91 335.18,166.14 335.30,165.61 335.42,165.25 335.54,165.41 335.66,164.30 335.78,164.49 335.90,164.40 336.02,163.91 336.14,163.86 336.26,163.31 336.38,163.24 336.50,162.98 336.62,162.70 336.74,162.43 336.86,162.09 336.98,161.96 337.10,161.35 337.22,160.91 337.34,160.57 337.46,160.16 337.58,159.52 337.70,159.02 337.82,158.67 337.94,158.51 338.06,157.89 338.18,157.48 338.30,157.58 338.42,156.85 338.54,156.19 338.66,155.69 338.78,155.60 338.90,154.84 339.02,154.75 339.14,154.24 339.26,153.95 339.38,153.21 339.50,153.06 339.62,152.24 339.74,152.08 339.86,151.87 339.98,151.41 340.10,150.63 340.22,150.60 340.34,150.16 340.46,149.69 340.58,149.19 340.70,148.86 340.82,148.42 340.94,148.24 341.06,147.77 341.18,147.46 341.30,147.01 341.42,146.35 341.54,146.15 341.66,146.03 341.78,145.20 341.90,144.99 342.02,144.46 342.14,144.05 342.26,143.80 342.38,143.50 342.50,143.08 342.62,142.64 342.74,142.30 342.86,141.56 342.98,141.45 343.10,140.99 343.22,140.50 343.34,140.11 343.46,139.61 343.58,139.45 343.70,138.83 343.82,138.36 343.94,138.16 344.06,137.73 344.18,137.42 344.30,137.22 344.42,136.65 344.54,136.31 344.66,136.22 344.78,135.50 344.90,135.44 345.02,135.34 345.14,135.20 345.26,135.11 345.38,134.62 345.50,134.62 345.62,134.42 345.74,134.28 345.86,134.18 345.98,134.08 346.10,134.29 346.22,134.39 346.34,134.29 346.46,134.63 346.58,134.64 346.70,134.78 346.82,134.80 346.94,135.44 347.06,135.73 347.18,136.07 347.30,136.61 347.42,137.14 347.54,138.03 347.66,138.68 347.78,139.49 347.90,140.25 348.02,140.95 348.14,141.91 348.26,143.23 348.38,144.08 348.50,145.52 348.62,146.91 348.74,148.05 348.86,149.89 348.98,151.40 349.10,153.07 349.22,154.29 349.34,155.61 349.46,156.99 349.58,158.89 349.70,160.95 349.82,165.62 349.94,170.91 350.06,174.09 350.18,176.04 350.30,178.40 350.42,180.49 350.54,182.52 350.66,184.29 350.78,186.27 350.90,188.72 351.02,192.99 351.14,196.95 351.26,201.18 351.38,203.74 351.50,204.60 351.62,206.23 351.74,207.29 351.86,208.75 351.98,209.42 352.10,209.23 352.22,210.97 352.34,212.02 352.46,213.02 352.58,213.35 352.70,214.43 352.82,214.38 352.94,213.55 353.06,214.02 353.18,213.44 353.30,215.30 353.42,214.30 353.54,214.12 353.66,213.19 353.78,213.48 353.90,213.62 354.02,212.96 354.14,212.69 354.26,212.27 354.38,213.16 354.50,211.62 354.62,210.82 354.74,210.86 354.86,210.54 354.98,210.24 355.10,209.75 355.22,208.95 355.34,208.94 355.46,208.80 355.58,207.62 355.70,208.71 355.82,208.21 355.94,206.32 356.06,206.57 356.18,206.77 356.30,206.54 356.42,206.34 356.54,204.44 356.66,204.36 356.78,204.20 356.90,204.23 357.02,203.15 357.14,203.32 357.26,202.88 357.38,202.51 357.50,201.23 357.62,201.30 357.74,200.73 357.86,200.01 357.98,200.12 358.10,198.98 358.22,199.07 358.34,197.78 358.46,198.07 358.58,197.52 358.70,196.12 358.82,196.03 358.94,195.52 359.06,194.58 359.18,194.68 359.30,194.12 359.42,193.14 359.54,192.98 359.66,192.75 359.78,191.92 359.90,191.26 360.02,191.54 360.14,190.23 360.26,190.17 360.38,189.94 360.50,189.36 360.62,188.09 360.74,188.08 360.86,187.66 360.98,187.16 361.10,186.92 361.22,186.42 361.34,185.82 361.46,185.39 361.58,185.14 361.70,184.75 361.82,183.43 361.94,184.13 362.06,182.96 362.18,182.93 362.30,181.89 362.42,181.79 362.54,181.18 362.66,181.40 362.78,180.96 362.90,180.38 363.02,180.05 363.14,179.97 363.26,179.49 363.38,179.49 363.50,179.37 363.62,179.71 363.74,179.45 363.86,179.08 363.98,179.48 364.10,179.56 364.22,179.89 364.34,179.56 364.46,180.04 364.58,180.74 364.70,180.39 364.82,180.69 364.94,181.36 365.06,181.64 365.18,182.40 365.30,182.96 365.42,183.63 365.54,184.86 365.66,185.27 365.78,185.85 365.90,186.87 366.02,187.78 366.14,188.87 366.26,190.15 366.38,191.65 366.50,192.09 366.62,194.39 366.74,196.47 366.86,200.06 366.98,202.83 367.10,204.91 367.22,207.25 367.34,209.44 367.46,211.26 367.58,214.29 367.70,217.03 367.82,217.72 367.94,221.64 368.06,223.15 368.18,224.79 368.30,228.24 368.42,230.55 368.54,232.42 368.66,234.00 368.78,237.36" fill="none" stroke="#1f77b4" stroke-width="1.9" stroke-linejoin="round" clip-path="url(#c)"/>
<path d="M45.50,235.9 v3.5 M57.39,235.9 v2 M69.28,235.9 v2 M81.17,235.9 v2 M93.06,235.9 v2 M104.95,235.9 v3.5 M116.84,235.9 v2 M128.73,235.9 v2 M140.62,235.9 v2 M152.51,235.9 v2 M164.40,235.9 v3.5 M176.29,235.9 v2 M188.18,235.9 v2 M200.07,235.9 v2 M211.96,235.9 v2 M223.85,235.9 v3.5 M235.74,235.9 v2 M247.63,235.9 v2 M259.52,235.9 v2 M271.41,235.9 v2 M283.30,235.9 v3.5 M295.19,235.9 v2 M307.08,235.9 v2 M318.97,235.9 v2 M330.86,235.9 v2 M342.75,235.9 v3.5 M354.64,235.9 v2 M366.53,235.9 v2 M378.42,235.9 v2 M390.31,235.9 v2 M402.20,235.9 v3.5 M45.5,235.90 h-2 M45.5,224.98 h-2 M45.5,217.24 h-2 M45.5,211.23 h-2 M45.5,206.32 h-2 M45.5,202.17 h-2 M45.5,198.58 h-2 M45.5,195.41 h-2 M45.5,192.57 h-3.5 M45.5,173.91 h-2 M45.5,162.99 h-2 M45.5,155.25 h-2 M45.5,149.24 h-2 M45.5,144.33 h-2 M45.5,140.18 h-2 M45.5,136.59 h-2 M45.5,133.42 h-2 M45.5,130.58 h-3.5 M45.5,111.92 h-2 M45.5,101.00 h-2 M45.5,93.26 h-2 M45.5,87.25 h-2 M45.5,82.34 h-2 M45.5,78.19 h-2 M45.5,74.60 h-2 M45.5,71.43 h-2 M45.5,68.59 h-3.5 M45.5,49.93 h-2 M45.5,39.01 h-2 M45.5,31.27 h-2 M45.5,25.26 h-2 M45.5,20.35 h-2 M45.5,16.20 h-2 M45.5,12.61 h-2 M45.5,9.44 h-2 M45.5,6.60 h-3.5" stroke="#000" stroke-width="0.8" fill="none"/>
<rect x="45.5" y="6.6" width="356.7" height="229.3" fill="none" stroke="#1a1a1a" stroke-width="1"/>
<rect x="203.2" y="45.3" width="130.2" height="69.4" rx="2.5" fill="#fff" fill-opacity="0.8" stroke="#ccc" stroke-width="1"/>
<line x1="207.75" x2="232.75" y1="56" y2="56" stroke="#d62728" stroke-width="1.5" stroke-dasharray="1.3,1.55"/>
<line x1="207.75" x2="232.75" y1="72.1" y2="72.1" stroke="#2ca02c" stroke-width="1.5" stroke-dasharray="5.85,2.4"/>
<line x1="207.75" x2="232.75" y1="87.7" y2="87.7" stroke="#ff7f0e" stroke-width="1.5" stroke-dasharray="9.96,2.49,1.56,2.49"/>
<line x1="207.6" x2="233.4" y1="103.1" y2="103.1" stroke="#1f77b4" stroke-width="1.55"/>
<line x1="220.6" x2="220.6" y1="97.3" y2="109.2" stroke="#1f77b4" stroke-width="1.55"/>
<text x="45.5" y="252.7" font-size="13" text-anchor="middle" fill="#000" font-family="Liberation Sans, sans-serif" >5</text>
<text x="105.0" y="252.7" font-size="13" text-anchor="middle" fill="#000" font-family="Liberation Sans, sans-serif" >10</text>
<text x="164.4" y="252.7" font-size="13" text-anchor="middle" fill="#000" font-family="Liberation Sans, sans-serif" >15</text>
<text x="223.8" y="252.7" font-size="13" text-anchor="middle" fill="#000" font-family="Liberation Sans, sans-serif" >20</text>
<text x="283.3" y="252.7" font-size="13" text-anchor="middle" fill="#000" font-family="Liberation Sans, sans-serif" >25</text>
<text x="342.8" y="252.7" font-size="13" text-anchor="middle" fill="#000" font-family="Liberation Sans, sans-serif" >30</text>
<text x="402.2" y="252.7" font-size="13" text-anchor="middle" fill="#000" font-family="Liberation Sans, sans-serif" >35</text>
<text x="31.9" y="198.0" font-size="13" text-anchor="end" font-family="Liberation Sans, sans-serif">10</text>
<text x="33.4" y="193.4" font-size="9" font-family="Liberation Sans, sans-serif">4</text>
<text x="31.9" y="136.0" font-size="13" text-anchor="end" font-family="Liberation Sans, sans-serif">10</text>
<text x="33.4" y="131.4" font-size="9" font-family="Liberation Sans, sans-serif">5</text>
<text x="31.9" y="74.0" font-size="13" text-anchor="end" font-family="Liberation Sans, sans-serif">10</text>
<text x="33.4" y="69.4" font-size="9" font-family="Liberation Sans, sans-serif">6</text>
<text x="31.9" y="12.0" font-size="13" text-anchor="end" font-family="Liberation Sans, sans-serif">10</text>
<text x="33.4" y="7.4" font-size="9" font-family="Liberation Sans, sans-serif">7</text>
<text x="223.8" y="268.2" font-size="13" text-anchor="middle" fill="#000" font-family="Liberation Sans, sans-serif" textLength="79.5">Energy (keV)</text>
<text transform="translate(10.3,121.3) rotate(-90)" font-size="13" text-anchor="middle" font-family="Liberation Sans, sans-serif" textLength="80">Counts / 3 eV</text>
<text x="243.1" y="60.3" font-size="13" text-anchor="start" fill="#000" font-family="Liberation Sans, sans-serif" textLength="65">γ-ray peak</text>
<text x="243.1" y="76.4" font-size="13" text-anchor="start" fill="#000" font-family="Liberation Sans, sans-serif" textLength="72.4">X-ray peaks</text>
<text x="243.1" y="92.4" font-size="13" text-anchor="start" fill="#000" font-family="Liberation Sans, sans-serif" textLength="67.2">Conv. elec.</text>
<text x="243.1" y="108.4" font-size="13" text-anchor="start" fill="#000" font-family="Liberation Sans, sans-serif" textLength="83.4">Measurement</text>
<text transform="translate(96.3,37) rotate(-45)" font-size="13" fill="#d62728" font-family="Liberation Sans, sans-serif">γ-9.4</text>
<text transform="translate(134.7,39.5) rotate(-45)" font-size="13" fill="#2ca02c" font-family="Liberation Sans, sans-serif">K<tspan font-size="10" dx="0.2" dy="1.3">α</tspan></text>
<text transform="translate(152.2,56.5) rotate(-45)" font-size="13" fill="#2ca02c" font-family="Liberation Sans, sans-serif">K<tspan font-size="10" dx="-0.2" dy="1.7">β</tspan></text>
<text transform="translate(191.8,40.2) rotate(-45)" font-size="13" fill="#ff7f0e" font-family="Liberation Sans, sans-serif">K-32</text>
<text transform="translate(343.9,39.7) rotate(-45)" font-size="13" fill="#ff7f0e" font-family="Liberation Sans, sans-serif">L-32</text>
<text transform="translate(361.3,57.1) rotate(-45)" font-size="13" fill="#ff7f0e" font-family="Liberation Sans, sans-serif">M,N-32</text>
</svg>
</body></html>
